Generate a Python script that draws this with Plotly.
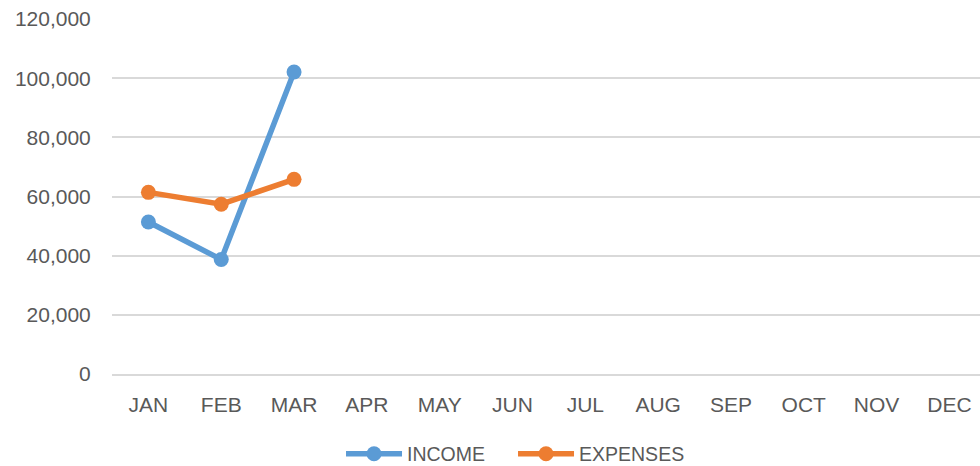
import plotly.graph_objects as go

months = ["JAN", "FEB", "MAR", "APR", "MAY", "JUN", "JUL", "AUG", "SEP", "OCT", "NOV", "DEC"]
income = [51400, 38700, 102100]
expenses = [61400, 57400, 65800]
y_ticks = [0, 20000, 40000, 60000, 80000, 100000, 120000]

font_family = "Liberation Sans, Arial, sans-serif"
gray = "#595959"

fig = go.Figure()
fig.add_trace(go.Scatter(
    x=months[:len(income)], y=income, name="INCOME", mode="lines+markers",
    line=dict(color="#5B9BD5", width=5.5), marker=dict(size=15, color="#5B9BD5"),
))
fig.add_trace(go.Scatter(
    x=months[:len(expenses)], y=expenses, name="EXPENSES", mode="lines+markers",
    line=dict(color="#ED7D31", width=5.5), marker=dict(size=15, color="#ED7D31"),
))

fig.update_layout(
    width=980, height=466,
    margin=dict(l=112, r=0, t=19, b=92, autoexpand=False),
    paper_bgcolor="white", plot_bgcolor="white",
    font=dict(family=font_family, size=21, color=gray),
    showlegend=True,
    legend=dict(orientation="h", x=0.462, xanchor="center", y=-0.2254, yanchor="middle",
                font=dict(size=19.5, color=gray), itemwidth=56, entrywidth=101,
                bgcolor="rgba(0,0,0,0)"),
    xaxis=dict(
        type="category", categoryorder="array", categoryarray=months,
        tickvals=months, ticktext=months, automargin=False,
        range=[-0.5, 11.42], showgrid=False, zeroline=False,
        showline=True, linecolor="#D9D9D9", linewidth=2,
        ticks="outside", ticklen=11, tickcolor="rgba(0,0,0,0)",
    ),
    yaxis=dict(
        range=[0, 120000], tickvals=y_ticks, tickformat=",d", automargin=False,
        showgrid=True, gridcolor="#D9D9D9", gridwidth=2,
        zeroline=False, showline=False,
        ticks="outside", ticklen=16, tickcolor="rgba(0,0,0,0)",
    ),
)

fig.write_html(
    "out.html",
    config={"displayModeBar": False},
    post_script="document.body.style.margin='0';document.body.style.overflow='hidden';",
)
